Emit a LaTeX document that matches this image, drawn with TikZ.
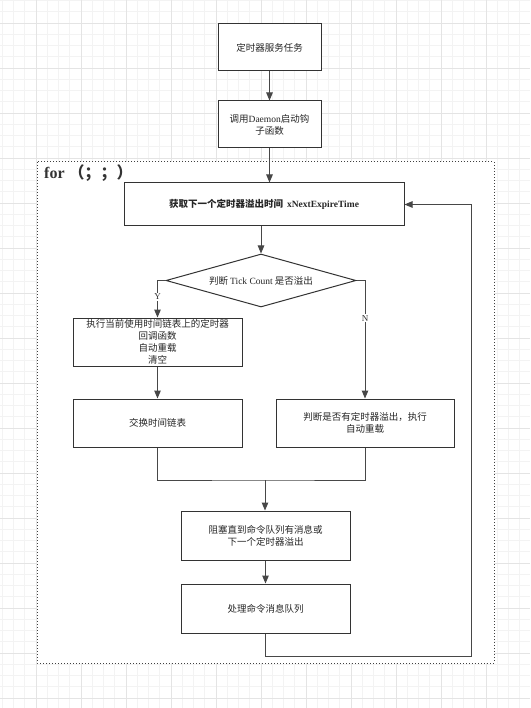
\documentclass[tikz,border=0pt]{standalone}
\usepackage{fontspec}
\setmainfont{Liberation Serif}
\newfontfamily\cjk{Noto Sans CJK SC}
\usetikzlibrary{shapes.geometric,arrows.meta}
\definecolor{boxc}{HTML}{333333}
\definecolor{linec}{HTML}{474747}
\definecolor{gridminor}{HTML}{F3F3F3}
\definecolor{gridmajor}{HTML}{E4E4E4}
\newcommand\lat[1]{{\rmfamily #1}}
\tikzset{
  box/.style={draw=boxc, fill=white, line width=1pt, align=center, inner sep=0pt,
    font=\cjk\fontsize{9.5}{12}\selectfont, text=black!85},
  conn/.style={draw=linec, line width=1pt},
  arr/.style={conn, -{Triangle[length=8pt,width=6.5pt]}},
  lbl/.style={fill=white, inner sep=1pt, font=\rmfamily\fontsize{9}{10}\selectfont, text=black!80},
}
\begin{document}
\begin{tikzpicture}[x=1pt,y=-1pt]
\useasboundingbox (0,0) rectangle (530,708);
\fill[white] (0,0) rectangle (530,708);
% grid
\foreach \i in {0,...,47} {\draw[gridminor, line width=0.8pt] ({2.25+11.25*\i},0) -- ({2.25+11.25*\i},708);}
\foreach \i in {0,...,62} {\draw[gridminor, line width=0.8pt] (0,{0.5+11.25*\i}) -- (530,{0.5+11.25*\i});}
\foreach \i in {0,...,10} {\draw[gridmajor, line width=0.9pt] ({36+45*\i},0) -- ({36+45*\i},708);}
\foreach \i in {0,...,15} {\draw[gridmajor, line width=0.9pt] (0,{23+45*\i}) -- (530,{23+45*\i});}
% loop frame
\draw[fill=white, draw=black!75, line width=1pt, dotted] (37,162) rectangle (494,663);
\node[anchor=west, inner sep=0pt, font=\bfseries\fontsize{16}{17}\selectfont, text=black!80] (forlbl) at (44,173) {for {\cjk （；；）}};
% nodes
\node[box, minimum width=103pt, minimum height=47pt] (b1) at (269.5,47.5) {定时器服务任务};
\node[box, minimum width=103pt, minimum height=47pt] (b2) at (269.5,124.5) {调用\lat{Daemon}启动钩\\子函数};
\node[box, minimum width=280pt, minimum height=43pt, font=\cjk\bfseries\fontsize{9.5}{12}\selectfont] (b3) at (264,204.5) {获取下一个定时器溢出时间\hspace{4pt}\lat{\bfseries xNextExpireTime}};
\node[box, diamond, aspect=3.6, minimum width=190pt, minimum height=53pt] (d) at (261,280.5) {判断 \lat{Tick Count} 是否溢出};
\node[box, minimum width=169pt, minimum height=48pt, font=\cjk\fontsize{9.5}{11.8}\selectfont] (b4) at (157.5,342) {执行当前使用时间链表上的定时器\\回调函数\\自动重载\\清空};
\node[box, minimum width=169pt, minimum height=48pt] (b5) at (157.5,423) {交换时间链表};
\node[box, minimum width=178pt, minimum height=48pt] (b6) at (365,423) {判断是否有定时器溢出，执行\\自动重载};
\node[box, minimum width=169pt, minimum height=49pt] (b7) at (265.5,535.5) {阻塞直到命令队列有消息或\\下一个定时器溢出};
\node[box, minimum width=169pt, minimum height=49pt] (b8) at (265.5,608.5) {处理命令消息队列};
% connectors
\draw[arr] (b1) -- (b2);
\draw[arr] (b2.south) -- (b2.south |- b3.north);
\draw[arr] (d.north |- b3.south) -- (d.north);
\draw[arr] (d.west) -| (b4.north) node[lbl, pos=0.72] (ylbl) {Y};
\draw[arr] (d.east) -| (b6.north) node[lbl, pos=0.66] (nlbl) {N};
\draw[arr] (b4) -- (b5);
\coordinate (mrg) at (265,480);
\draw[conn] (b5.south) |- (mrg) -| (b6.south);
\draw[arr] (mrg) -- (mrg |- b7.north);
\draw[arr] (b7) -- (b8);
\coordinate (lp) at (471,656);
\draw[arr] (b8.south) |- (lp) |- (b3.east);
\end{tikzpicture}
\end{document}
